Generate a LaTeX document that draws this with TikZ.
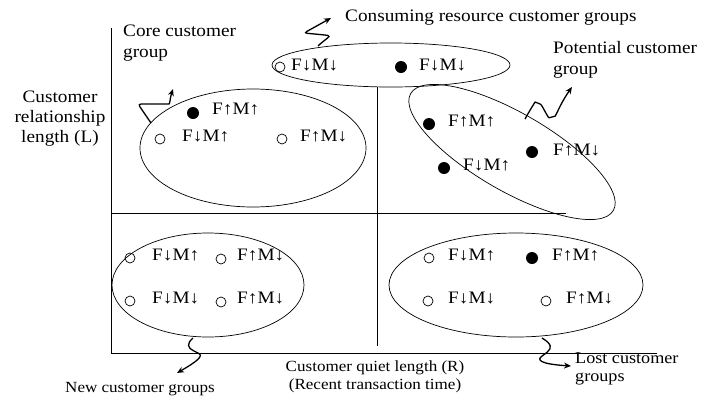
\documentclass[tikz,border=0pt]{standalone}
\usepackage{fontspec}
\setmainfont[FakeStretch=1.1]{Liberation Serif}
\usetikzlibrary{arrows.meta,shapes.geometric}
\begin{document}
\begin{tikzpicture}[x=1pt,y=-1pt,
  grp/.style={draw,ellipse,inner sep=0pt,line width=0.7pt},
  lbl/.style={font=\fontsize{17.5}{21}\selectfont,align=left,anchor=west,inner sep=0pt},
  fm/.style={font=\fontsize{17.5}{20}\selectfont,anchor=west,inner sep=0pt},
  odot/.style={draw,circle,minimum size=10pt,inner sep=0pt,line width=0.7pt},
  fdot/.style={fill,circle,minimum size=12pt,inner sep=0pt},
  axis/.style={line width=0.8pt},
  sq/.style={line width=1.3pt,-{Stealth[length=7pt,width=6pt]},rounded corners=3pt}]
\useasboundingbox (0,0) rectangle (701,400);
% axes
\coordinate (top) at (111,28);
\coordinate (orig) at (111,353);
\coordinate (xend) at (657,353);
\coordinate (ml) at (111,213);
\coordinate (mr) at (566,213);
\coordinate (vt) at (377,87);
\coordinate (vb) at (377,346);
\draw[axis] (top) -- (orig) -- (xend);
\draw[axis] (ml) -- (mr);
\draw[axis] (vt) -- (vb);
% ellipses
\node[grp,minimum width=238pt,minimum height=44pt] (cons) at (391,65) {};
\node[grp,minimum width=226pt,minimum height=118pt] (core) at (253,148) {};
\node[grp,minimum width=234pt,minimum height=78pt,rotate=-30] (pot) at (512,152) {};
\node[grp,minimum width=192pt,minimum height=104pt] (new) at (208,285) {};
\node[grp,minimum width=254pt,minimum height=104pt] (lost) at (516,285) {};
% consuming
\node[odot] (c1) at (280,67) {};
\node[fm] (c1t) at (291,65) {F↓M↓};
\node[fdot] (c2) at (401,67) {};
\node[fm] (c2t) at (419,65) {F↓M↓};
% core
\node[fdot] (k1) at (193,113) {};
\node[fm] (k1t) at (212,109) {F↑M↑};
\node[odot] (k2) at (160,139) {};
\node[fm] (k2t) at (182,136) {F↓M↑};
\node[odot] (k3) at (282,139) {};
\node[fm] (k3t) at (300,136) {F↑M↓};
% potential
\node[fdot] (p1) at (429,124) {};
\node[fm] (p1t) at (448,121) {F↑M↑};
\node[fdot] (p2) at (444,168) {};
\node[fm] (p2t) at (463,165) {F↓M↑};
\node[fdot] (p3) at (532,152) {};
\node[fm] (p3t) at (553,150) {F↑M↓};
% new
\node[odot] (n1) at (130,258) {};
\node[fm] (n1t) at (152,255) {F↓M↑};
\node[odot] (n2) at (221,259) {};
\node[fm] (n2t) at (237,255) {F↑M↓};
\node[odot] (n3) at (130,301) {};
\node[fm] (n3t) at (152,298) {F↓M↓};
\node[odot] (n4) at (221,302) {};
\node[fm] (n4t) at (237,298) {F↑M↓};
% lost
\node[odot] (l1) at (429,258) {};
\node[fm] (l1t) at (448,255) {F↓M↑};
\node[fdot] (l2) at (532,258) {};
\node[fm] (l2t) at (552,255) {F↑M↑};
\node[odot] (l3) at (428,301) {};
\node[fm] (l3t) at (448,298) {F↓M↓};
\node[odot] (l4) at (546,301) {};
\node[fm] (l4t) at (566,298) {F↑M↓};
% labels
\node[lbl] (lcons) at (345,18) {Consuming resource customer groups};
\node[lbl] (lcore) at (123,43) {Core customer\\group};
\node[lbl] (lpot) at (553,60) {Potential customer\\group};
\node[font=\fontsize{17.5}{20}\selectfont,align=center,inner sep=0pt] (lL) at (60,119) {Customer\\relationship\\length (L)};
\node[font=\fontsize{15.5}{18}\selectfont,anchor=west,inner sep=0pt] (lnew) at (65,389) {New customer groups};
\node[font=\fontsize{15.5}{18}\selectfont,align=center,inner sep=0pt] (lR) at (375,377) {Customer quiet length (R)\\(Recent transaction time)};
\node[lbl,font=\fontsize{16.5}{18}\selectfont] (llost) at (575,369) {Lost customer\\groups};
% squiggles
\coordinate (s1) at (318,46);
\coordinate (e1) at (331,18);
\draw[sq] (s1) .. controls (324,40) and (332,36) .. (325,35) -- (304,33) -- (e1);
\coordinate (s2) at (151,123);
\coordinate (e2) at (173,89);
\draw[sq] (s2) -- (138,104) -- (166,104) .. controls (170,104) and (170,98) .. (e2);
\coordinate (s3) at (525,119);
\coordinate (e3) at (572,87);
\draw[sq] (s3) .. controls (530,110) and (535,102) .. (538,103) .. controls (542,105) and (548,118) .. (552,117) .. controls (556,116) and (560,104) .. (e3);
\coordinate (s4) at (193,338);
\coordinate (e4) at (177,373);
\draw[sq] (s4) .. controls (186,344) and (188,348) .. (196,352) .. controls (204,356) and (196,362) .. (e4);
\coordinate (s5) at (542,338);
\coordinate (e5) at (571,366);
\draw[sq] (s5) .. controls (552,344) and (552,348) .. (545,354) .. controls (536,360) and (540,364) .. (e5);
\end{tikzpicture}
\end{document}
